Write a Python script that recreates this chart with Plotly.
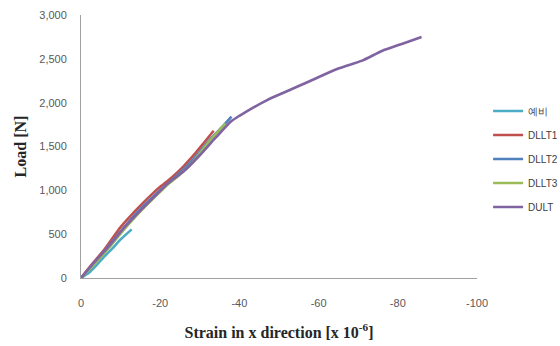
import plotly.graph_objects as go

names = ["예비", "DLLT1", "DLLT2", "DLLT3", "DULT"]
colors = ["#4BACC6", "#C0504D", "#4F81BD", "#9BBB59", "#8064A2"]

x_yebi = [0, -2, -4, -6, -8, -10, -12.8]
y_yebi = [0, 60, 150, 250, 340, 440, 555]

x_dllt1 = [0, -3, -6, -10, -14, -18, -20, -23, -26, -29, -31, -33.5]
y_dllt1 = [0, 170, 330, 580, 780, 960, 1040, 1150, 1280, 1430, 1540, 1680]

x_dllt2 = [0, -3, -6, -10, -14, -18, -21, -24, -27, -30, -33, -36, -38]
y_dllt2 = [0, 150, 310, 530, 740, 920, 1040, 1160, 1290, 1440, 1600, 1740, 1840]

x_dllt3 = [0, -3, -7, -11, -15, -19, -22, -25, -28, -31, -34, -36.5]
y_dllt3 = [0, 140, 340, 560, 760, 940, 1070, 1180, 1310, 1480, 1640, 1760]

x_dult = [0, -3, -7, -11, -15, -19, -22, -26, -30, -34, -38, -40, -47, -52, -57, -65, -71, -76, -81, -86]
y_dult = [0, 160, 360, 580, 770, 950, 1080, 1220, 1400, 1600, 1790, 1850, 2030, 2130, 2230, 2390, 2480, 2590, 2670, 2750]

xs = [x_yebi, x_dllt1, x_dllt2, x_dllt3, x_dult]
ys = [y_yebi, y_dllt1, y_dllt2, y_dllt3, y_dult]

x_ticks = [0, -20, -40, -60, -80, -100]
y_ticks = [0, 500, 1000, 1500, 2000, 2500, 3000]

fig = go.Figure()
for i, n in enumerate(names):
    fig.add_trace(go.Scatter(
        x=xs[i], y=ys[i], mode="lines", name=n, legendgroup=n,
        line=dict(color=colors[i], width=2.6, shape="spline", smoothing=0.6),
    ))

tick_font = dict(family="Liberation Sans Narrow, Arial Narrow, Liberation Sans, sans-serif", size=11, color="#595959")
title_font = dict(family="Liberation Serif, Times New Roman, serif", size=16, color="#262626")

fig.update_layout(
    width=560, height=346,
    margin=dict(l=81, r=83, t=15, b=68, autoexpand=False),
    paper_bgcolor="white", plot_bgcolor="white",
    showlegend=True,
    legend=dict(
        x=1.028, y=0.69, xanchor="left", yanchor="top",
        font=dict(family="Liberation Sans Narrow, Arial Narrow, Liberation Sans, sans-serif", size=10, color="#404040"),
        tracegroupgap=5, itemwidth=30, bgcolor="rgba(0,0,0,0)",
    ),
    xaxis=dict(
        range=[0, -100], tickvals=x_ticks, ticktext=[str(v) for v in x_ticks],
        showgrid=False, zeroline=False, showline=True, linecolor="#A0A0A0", linewidth=1,
        ticks="", tickfont=tick_font, ticklabelstandoff=15,
        title=dict(text="<b>Strain in x direction [x 10<sup>-6</sup>]</b>", font=title_font, standoff=18),
    ),
    yaxis=dict(
        range=[0, 3000], tickvals=y_ticks, ticktext=[f"{v:,}" for v in y_ticks],
        showgrid=False, zeroline=False, showline=True, linecolor="#A0A0A0", linewidth=1,
        ticks="", tickfont=tick_font, ticklabelstandoff=11,
        title=dict(text="<b>Load [N]</b>", font=title_font, standoff=8),
    ),
)

fig.write_html("out.html")
